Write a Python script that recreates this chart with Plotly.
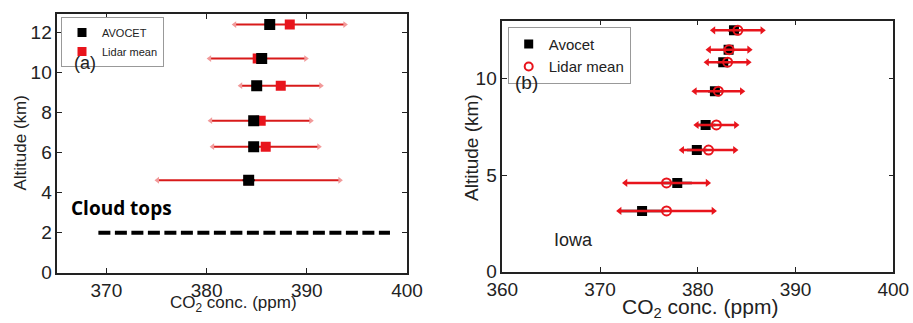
import plotly.graph_objects as go

# ---------------- data ----------------
# Panel (a)
a_alt = [12.4, 10.7, 9.35, 7.6, 6.3, 4.62]
a_avocet = [386.3, 385.5, 385.0, 384.7, 384.7, 384.2]
a_avocet_err = [0.5, 0.5, 0.5, 0.5, 0.5, 0.6]
a_lidar = [388.3, 385.1, 387.4, 385.4, 385.9, 384.2]
a_lidar_err = [5.5, 4.8, 4.0, 5.0, 5.3, 9.1]
a_cloud_x = [369.2, 398.3]
a_cloud_y = [2, 2]
a_xticks = [370, 380, 390, 400]
a_yticks = [0, 2, 4, 6, 8, 10, 12]

# Panel (b)
b_alt = [12.5, 11.5, 10.85, 9.35, 7.6, 6.3, 4.6, 3.15]
b_avocet = [383.7, 383.15, 382.6, 381.75, 380.8, 379.9, 377.9, 374.3]
b_avocet_err = [0.6, 0.5, 0.6, 0.7, 1.0, 1.0, 1.5, 2.3]
b_lidar = [384.1, 383.2, 383.05, 382.1, 381.9, 381.1, 376.8, 376.8]
b_lidar_err = [2.5, 2.05, 2.1, 2.4, 2.0, 2.7, 4.2, 4.8]
b_xticks = [360, 370, 380, 390, 400]
b_yticks = [0, 5, 10]

W, H = 913, 323
FONT = "Liberation Sans, Arial, sans-serif"
RED = "#e8141c"


def px(x):
    return x / W


def py(y):
    return 1 - y / H


fig = go.Figure()

# ---------- panel (a) ----------
fig.add_trace(go.Scatter(
    x=a_lidar, y=a_alt, mode="markers", name="Lidar mean", showlegend=False,
    marker=dict(symbol="square", size=10, color=RED),
    error_x=dict(type="data", array=a_lidar_err, color="#d81a1a", thickness=2, width=0),
    xaxis="x", yaxis="y"))
fig.add_trace(go.Scatter(
    x=[l - e for l, e in zip(a_lidar, a_lidar_err)] + [l + e for l, e in zip(a_lidar, a_lidar_err)],
    y=a_alt + a_alt, mode="markers", showlegend=False, hoverinfo="skip",
    marker=dict(symbol=["triangle-left"] * len(a_alt) + ["triangle-right"] * len(a_alt),
                size=6, color="#f29a9a"),
    xaxis="x", yaxis="y"))
fig.add_trace(go.Scatter(
    x=a_avocet, y=a_alt, mode="markers", name="AVOCET", showlegend=False,
    marker=dict(symbol="square", size=11, color="black"),
    error_x=dict(type="data", array=a_avocet_err, color="black", thickness=2, width=0),
    xaxis="x", yaxis="y"))
fig.add_trace(go.Scatter(
    x=a_cloud_x, y=a_cloud_y, mode="lines", showlegend=False, hoverinfo="skip",
    line=dict(color="black", width=4, dash="12px,4.5px"),
    xaxis="x", yaxis="y"))
# legend entries (a)
fig.add_trace(go.Scatter(x=[None], y=[None], mode="markers", name="AVOCET", legend="legend",
                         marker=dict(symbol="square", size=9, color="black"), xaxis="x", yaxis="y"))
fig.add_trace(go.Scatter(x=[None], y=[None], mode="markers", name="Lidar mean", legend="legend",
                         marker=dict(symbol="square", size=9, color=RED), xaxis="x", yaxis="y"))

# ---------- panel (b) ----------
fig.add_trace(go.Scatter(
    x=b_avocet, y=b_alt, mode="markers", showlegend=False,
    marker=dict(symbol="square", size=10, color="black"),
    error_x=dict(type="data", array=b_avocet_err, color="black", thickness=2.5, width=0),
    xaxis="x2", yaxis="y2"))
fig.add_trace(go.Scatter(
    x=b_lidar, y=b_alt, mode="markers", showlegend=False,
    marker=dict(symbol="circle-open", size=9, color=RED, line=dict(width=2, color=RED)),
    error_x=dict(type="data", array=b_lidar_err, color=RED, thickness=2.5, width=0),
    xaxis="x2", yaxis="y2"))
fig.add_trace(go.Scatter(
    x=[l - e for l, e in zip(b_lidar, b_lidar_err)] + [l + e for l, e in zip(b_lidar, b_lidar_err)],
    y=b_alt + b_alt, mode="markers", showlegend=False, hoverinfo="skip",
    marker=dict(symbol=["triangle-left"] * len(b_alt) + ["triangle-right"] * len(b_alt),
                size=7, color=RED),
    xaxis="x2", yaxis="y2"))
fig.add_trace(go.Scatter(x=[None], y=[None], mode="markers", name="Avocet", legend="legend2",
                         marker=dict(symbol="square", size=9, color="black"), xaxis="x2", yaxis="y2"))
fig.add_trace(go.Scatter(x=[None], y=[None], mode="markers", name="Lidar mean", legend="legend2",
                         marker=dict(symbol="circle-open", size=8, color=RED, line=dict(width=2, color=RED)),
                         xaxis="x2", yaxis="y2"))

axis_common = dict(showline=True, linecolor="#222", linewidth=1.5, mirror="ticks",
                   ticks="inside", ticklen=5, tickcolor="#222", showgrid=False,
                   zeroline=False, color="#222", automargin=False)

fig.update_layout(
    width=W, height=H, margin=dict(l=0, r=0, t=0, b=0, autoexpand=False),
    paper_bgcolor="white", plot_bgcolor="white",
    font=dict(family=FONT, color="#222"),
    xaxis=dict(domain=[px(57.3), px(407)], range=[365.1, 400], tickvals=a_xticks,
               tickfont=dict(size=19), anchor="y", **axis_common),
    yaxis=dict(domain=[py(272.7), py(14)], range=[0, 12.93], tickvals=a_yticks,
               tickfont=dict(size=19), anchor="x", **axis_common),
    xaxis2=dict(domain=[px(502.3), px(893.3)], range=[360, 400], tickvals=b_xticks,
                tickfont=dict(size=19), anchor="y2", **axis_common),
    yaxis2=dict(domain=[py(271.7), py(20.7)], range=[0, 13], tickvals=b_yticks,
                tickfont=dict(size=19), anchor="x2", **axis_common),
    legend=dict(x=px(61), y=py(17), xanchor="left", yanchor="top",
                bgcolor="white", bordercolor="#999", borderwidth=1,
                font=dict(size=11, family=FONT), itemwidth=30, tracegroupgap=0),
    legend2=dict(x=px(507.7), y=py(26.7), xanchor="left", yanchor="top",
                 bgcolor="white", bordercolor="#999", borderwidth=1,
                 font=dict(size=15, family=FONT), itemwidth=30, tracegroupgap=0),
    showlegend=True,
)

ann = [
    dict(text="(a)", x=px(72), y=py(63), xanchor="left", yanchor="middle", font=dict(size=18)),
    dict(text="<b>Cloud tops</b>", x=px(69), y=py(208), xanchor="left", yanchor="middle",
         font=dict(size=19, family="Open Sans, Liberation Sans, sans-serif", color="black")),
    dict(text="Altitude (km)", x=px(20), y=py(143.5), textangle=-90, xanchor="center",
         yanchor="middle", font=dict(size=17)),
    dict(text="CO<sub>2</sub> conc. (ppm)", x=px(233), y=py(304), xanchor="center",
         yanchor="middle", font=dict(size=17)),
    dict(text="(b)", x=px(513), y=py(82.7), xanchor="left", yanchor="middle", font=dict(size=19)),
    dict(text="Iowa", x=px(551.5), y=py(239.5), xanchor="left", yanchor="middle", font=dict(size=18)),
    dict(text="Altitude (km)", x=px(471), y=py(148), textangle=-90, xanchor="center",
         yanchor="middle", font=dict(size=19)),
    dict(text="CO<sub>2</sub> conc. (ppm)", x=px(700), y=py(308), xanchor="center",
         yanchor="middle", font=dict(size=21)),
]
for a in ann:
    a.update(xref="paper", yref="paper", showarrow=False)
fig.update_layout(annotations=ann)

fig.write_html("out.html")
